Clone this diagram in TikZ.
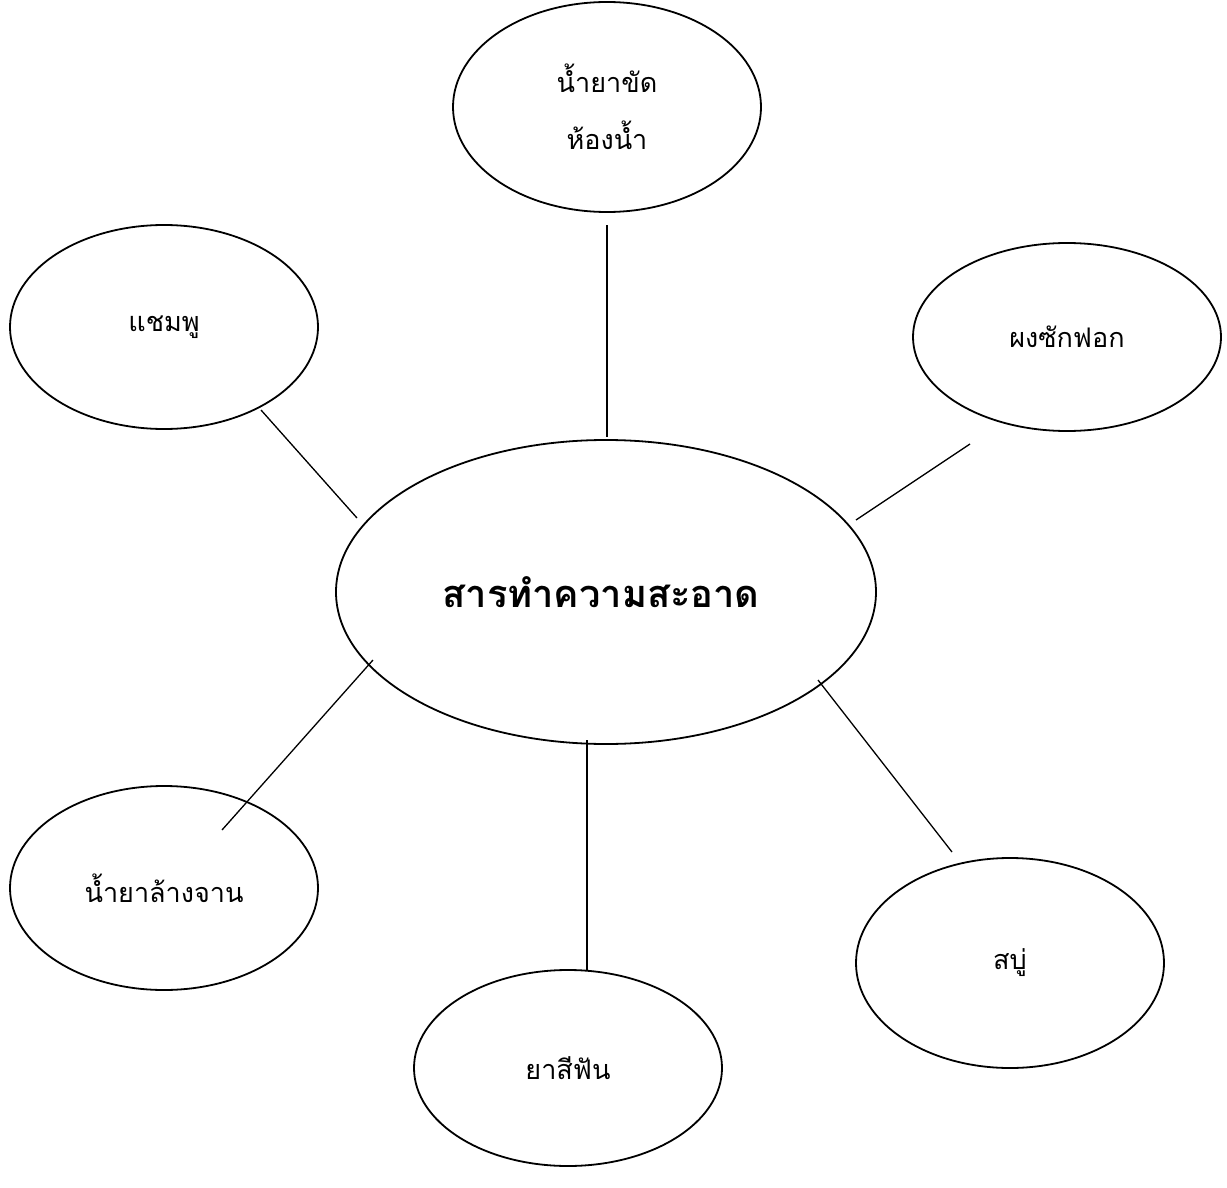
\documentclass[tikz,border=0pt]{standalone}
\usepackage{fontspec}
\newfontfamily\thaifont[Script=Thai]{Loma}
\usetikzlibrary{shapes.geometric}
\begin{document}
\begin{tikzpicture}[x=1pt,y=-1pt,
  bubble/.style={draw=black, line width=1.8pt, shape=ellipse, inner sep=0pt,
    minimum width=308pt, minimum height=204pt, align=center,
    font=\thaifont\fontsize{27}{57}\selectfont},
  hub/.style={bubble, minimum width=540pt, minimum height=304pt,
    font=\thaifont\bfseries\fontsize{38}{44}\selectfont},
  link/.style={line width=1.3pt}]
\useasboundingbox (0,0) rectangle (1227,1188);

% central topic
\node[hub] (hub) at (606,592) {\hspace*{-10pt}สารทำความสะอาด};

% surrounding items
\node[bubble, minimum height=210pt] (toilet) at (607,107) {น้ำยาขัด\\ห้องน้ำ};
\node[bubble] (shampoo) at (164,327) {แชมพู};
\node[bubble, minimum height=188pt] (powder) at (1067,337) {ผงซักฟอก};
\node[bubble] (dish) at (164,888) {น้ำยาล้างจาน};
\node[bubble, minimum height=196pt] (paste) at (568,1068) {ยาสีฟัน};
\node[bubble, minimum height=210pt] (soap) at (1010,963) {สบู่};

% spoke end points
\coordinate (t1) at (607,225);  \coordinate (t2) at (607,437);
\coordinate (s1) at (261,410);  \coordinate (s2) at (357,518);
\coordinate (p1) at (970,444);  \coordinate (p2) at (856,520);
\coordinate (d1) at (222,830);  \coordinate (d2) at (373,660);
\coordinate (b1) at (587,970);  \coordinate (b2) at (587,740);
\coordinate (o1) at (952,852);  \coordinate (o2) at (818,680);

\draw[link] (t1) -- (t2);
\draw[link] (s1) -- (s2);
\draw[link] (p1) -- (p2);
\draw[link] (d1) -- (d2);
\draw[link] (b1) -- (b2);
\draw[link] (o1) -- (o2);
\end{tikzpicture}
\end{document}
